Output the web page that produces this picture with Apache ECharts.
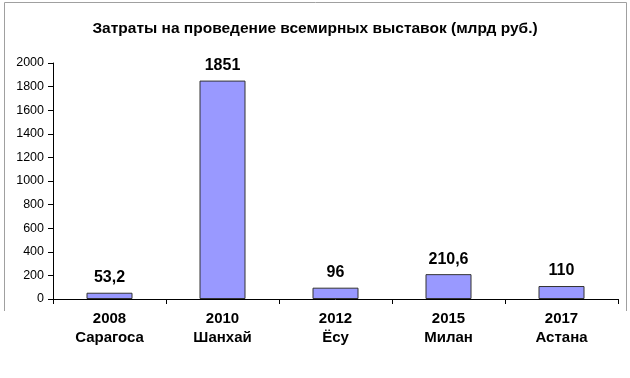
<!DOCTYPE html>
<html>
<head>
<meta charset="utf-8">
<script src="https://cdn.jsdelivr.net/npm/echarts@6/dist/echarts.min.js"></script>
<style>
html,body{margin:0;padding:0;background:#fff;}
#c{width:630px;height:378px;}
</style>
</head>
<body>
<div id="c"></div>
<script>
const years = ['2008', '2010', '2012', '2015', '2017'];
const cities = ['Сарагоса', 'Шанхай', 'Ёсу', 'Милан', 'Астана'];
const costs = [53.2, 1851, 96, 210.6, 110];
const yTicks = [0, 200, 400, 600, 800, 1000, 1200, 1400, 1600, 1800, 2000];

const categories = years.map((y, i) => y + '\n' + cities[i]);
const chart = echarts.init(document.getElementById('c'));
chart.setOption({
  animation: false,
  title: {
    text: 'Затраты на проведение всемирных выставок (млрд руб.)',
    left: 'center',
    top: 16,
    textStyle: {fontFamily: 'Liberation Sans, Arial', fontSize: 15.5, fontWeight: 'bold', color: '#000'}
  },
  graphic: [{
    type: 'polyline',
    shape: {points: [[4.5, 311], [4.5, 2.5], [626.5, 2.5], [626.5, 311]]},
    style: {stroke: '#a0a0a0', lineWidth: 1, fill: null}
  }],
  grid: {left: 53, right: 12, top: 63, bottom: 79},
  xAxis: {
    type: 'category',
    data: categories,
    axisLine: {lineStyle: {color: '#000', width: 1}},
    axisTick: {show: true, length: 5, alignWithLabel: false, lineStyle: {color: '#000'}},
    axisLabel: {
      interval: 0,
      margin: 10,
      fontFamily: 'Liberation Sans, Arial',
      fontSize: 15,
      fontWeight: 'bold',
      color: '#000',
      lineHeight: 19
    }
  },
  yAxis: {
    type: 'value',
    min: yTicks[0],
    max: yTicks[yTicks.length - 1],
    interval: yTicks[1] - yTicks[0],
    splitLine: {show: false},
    axisLine: {show: true, lineStyle: {color: '#000', width: 1}},
    axisTick: {show: true, length: 5, lineStyle: {color: '#000'}},
    axisLabel: {
      margin: 9,
      fontFamily: 'Liberation Sans, Arial',
      fontSize: 12.5,
      color: '#000',
      formatter: v => String(v)
    }
  },
  series: [{
    type: 'bar',
    data: costs,
    barWidth: 46,
    itemStyle: {color: '#9999ff', borderColor: '#333', borderWidth: 1},
    label: {
      show: true,
      position: 'top',
      distance: 7,
      fontFamily: 'Liberation Sans, Arial',
      fontSize: 16,
      fontWeight: 'bold',
      color: '#000',
      formatter: p => String(p.value).replace('.', ',')
    }
  }]
});
</script>
</body>
</html>
